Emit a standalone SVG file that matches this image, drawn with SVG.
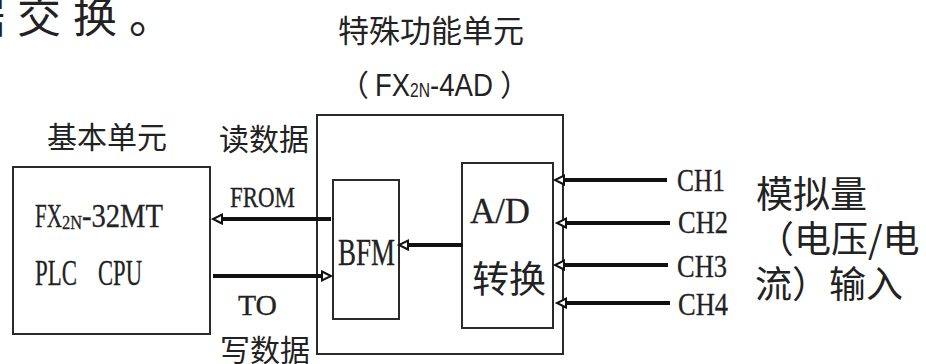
<svg xmlns="http://www.w3.org/2000/svg" width="926" height="364" viewBox="0 0 926 364">
<style>
.bg{fill:#ffffff}
.box{fill:#ffffff;stroke:#2a2a2a;stroke-width:2}
.cjk{font-family:"Noto Sans CJK SC","Noto Sans",sans-serif;fill:#222}
.lat{font-family:"Liberation Serif","DejaVu Serif",serif;fill:#222;stroke:#222;stroke-width:0.3}
.sans{font-family:"Liberation Sans","Noto Sans",sans-serif;fill:#222}
.conn{stroke:#111;stroke-width:4;fill:none;marker-end:url(#ah)}
</style>
<defs>
<marker id="ah" markerUnits="userSpaceOnUse" markerWidth="14" markerHeight="14" refX="1" refY="7" orient="auto" overflow="visible">
<path d="M1,2.5 L10,7 L1,11.5 Z" fill="#ffffff" stroke="#111" stroke-width="2" stroke-linejoin="miter"/>
</marker>
</defs>
<rect class="bg" x="0" y="0" width="926" height="364"/>

<text class="cjk" x="-39" y="33" font-size="44" letter-spacing="12">据交换。</text>

<g id="plc-unit">
<text class="cjk" x="47" y="148" font-size="30">基本单元</text>
<rect class="box" x="13" y="167" width="197" height="167"/>
<text class="lat" y="227" font-size="33"><tspan x="35" textLength="27" lengthAdjust="spacingAndGlyphs">FX</tspan><tspan x="62" y="229" font-size="19" textLength="20" lengthAdjust="spacingAndGlyphs">2N</tspan><tspan x="82" y="227" textLength="81" lengthAdjust="spacingAndGlyphs">-32MT</tspan></text>
<text class="lat" y="285" font-size="35"><tspan x="35" textLength="42" lengthAdjust="spacingAndGlyphs">PLC</tspan> <tspan x="98" textLength="44" lengthAdjust="spacingAndGlyphs">CPU</tspan></text>
</g>

<g id="special-unit">
<text class="cjk" x="338" y="42" font-size="31">特殊功能单元</text>
<text class="sans" y="96" font-size="31"><tspan class="cjk" x="339" font-size="30">（</tspan><tspan x="375" textLength="35" lengthAdjust="spacingAndGlyphs">FX</tspan><tspan x="410" y="97" font-size="21" textLength="20" lengthAdjust="spacingAndGlyphs">2N</tspan><tspan x="430" y="96" textLength="63" lengthAdjust="spacingAndGlyphs">-4AD</tspan><tspan class="cjk" x="500" font-size="30">）</tspan></text>
<rect class="box" x="317" y="115" width="246" height="239"/>
</g>

<g id="bfm">
<rect class="box" x="333" y="180" width="66" height="139"/>
<text class="lat" x="338" y="265" font-size="38" textLength="57" lengthAdjust="spacingAndGlyphs">BFM</text>
</g>

<g id="ad">
<rect class="box" x="462" y="163" width="91" height="165"/>
<text class="lat" x="470" y="223" font-size="35" textLength="60" lengthAdjust="spacingAndGlyphs">A/D</text>
<text class="cjk" x="472" y="293" font-size="37">转换</text>
</g>

<g id="inputs">
<text class="lat" x="677" y="191" font-size="32" textLength="48" lengthAdjust="spacingAndGlyphs">CH1</text>
<text class="lat" x="678" y="233" font-size="32" textLength="50" lengthAdjust="spacingAndGlyphs">CH2</text>
<text class="lat" x="677" y="277" font-size="32" textLength="50" lengthAdjust="spacingAndGlyphs">CH3</text>
<text class="lat" x="678" y="315" font-size="32" textLength="50" lengthAdjust="spacingAndGlyphs">CH4</text>
<text class="cjk" x="756" y="208" font-size="37">模拟量</text>
<text class="cjk" x="757" y="253" font-size="37">（电压/电</text>
<text class="cjk" x="755" y="298" font-size="37">流）输入</text>
</g>

<g id="labels">
<text class="cjk" x="219" y="150" font-size="30">读数据</text>
<text class="lat" x="230" y="207" font-size="30" textLength="65" lengthAdjust="spacingAndGlyphs">FROM</text>
<text class="lat" x="238" y="315" font-size="30" textLength="39" lengthAdjust="spacingAndGlyphs">TO</text>
<text class="cjk" x="220" y="361" font-size="30">写数据</text>
</g>

<g id="connectors">
<line class="conn" x1="331" y1="219" x2="222" y2="219"/>
<line class="conn" x1="213" y1="276" x2="322" y2="276"/>
<line class="conn" x1="463" y1="245" x2="408" y2="245"/>
<line class="conn" x1="667" y1="180" x2="564" y2="180"/>
<line class="conn" x1="670" y1="223" x2="566" y2="223"/>
<line class="conn" x1="668" y1="265" x2="564" y2="265"/>
<line class="conn" x1="670" y1="303" x2="566" y2="303"/>
</g>
</svg>
